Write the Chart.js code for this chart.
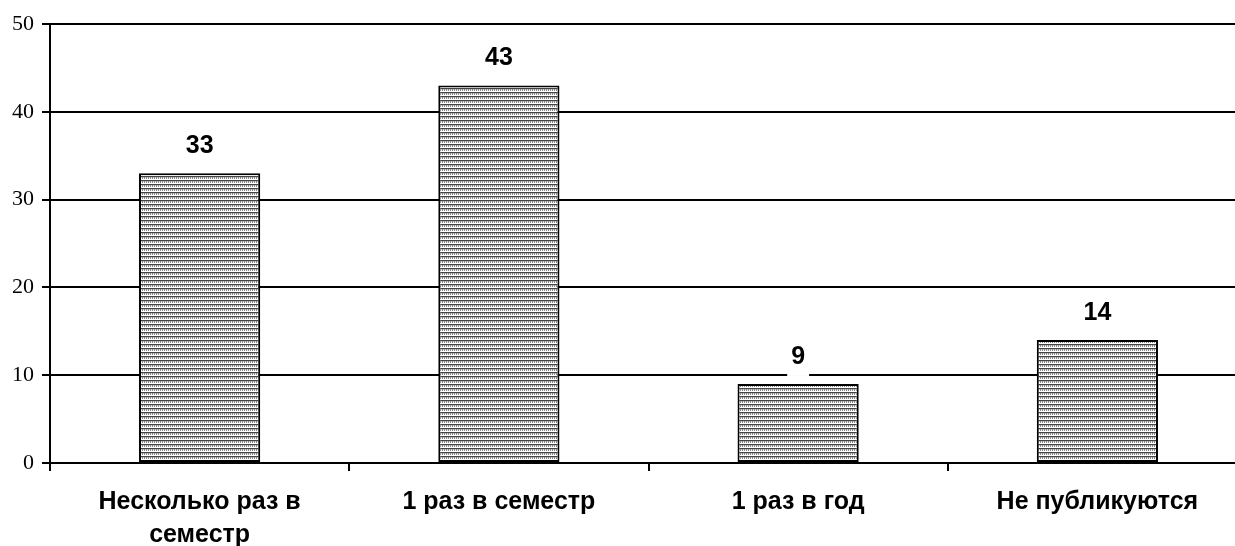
<!DOCTYPE html>
<html lang="ru">
<head>
  <meta charset="UTF-8">
  <title>Частота публикаций</title>
  <script src="https://cdn.jsdelivr.net/npm/chart.js"></script>
  <style>
    html, body { margin: 0; padding: 0; background: #fff; overflow: hidden; }
    .wrap { width: 1247px; height: 546px; position: relative; }
  </style>
</head>
<body>
  <div class="wrap"><canvas id="chart"></canvas></div>
  <script>
    // данные
    const categories = [['Несколько раз в', 'семестр'], '1 раз в семестр', '1 раз в год', 'Не публикуются'];
    const values = [33, 43, 9, 14];
    const yTicks = [0, 10, 20, 30, 40, 50];

    // штриховка столбцов (мелкий "кирпич")
    function makePattern() {
      const c = document.createElement('canvas');
      c.width = 4; c.height = 4;
      const g = c.getContext('2d');
      g.fillStyle = '#ffffff'; g.fillRect(0, 0, 4, 4);
      g.fillStyle = '#444444'; g.fillRect(0, 0, 4, 1);
      g.fillStyle = '#888888'; g.fillRect(0, 1, 1, 2); g.fillRect(2, 1, 1, 2);
      g.fillStyle = '#cccccc'; g.fillRect(1, 1, 1, 1); g.fillRect(3, 1, 1, 1);
      return g.createPattern(c, 'repeat');
    }

    // подписи значений с белой подложкой
    const valueLabels = {
      id: 'valueLabels',
      afterDatasetsDraw(chart) {
        const ctx = chart.ctx;
        const meta = chart.getDatasetMeta(0);
        ctx.save();
        ctx.font = 'bold 25px "Liberation Sans", Arial, sans-serif';
        ctx.textAlign = 'center';
        ctx.textBaseline = 'middle';
        meta.data.forEach((bar, i) => {
          const txt = String(values[i]);
          const y = bar.y - 27;
          const w = ctx.measureText(txt).width + 8;
          ctx.fillStyle = '#fff';
          ctx.fillRect(bar.x - w / 2, y - 15, w, 34);
          ctx.fillStyle = '#000';
          ctx.fillText(txt, bar.x, y);
        });
        ctx.restore();
      }
    };

    new Chart(document.getElementById('chart'), {
      type: 'bar',
      data: {
        labels: categories,
        datasets: [{
          data: values,
          backgroundColor: makePattern(),
          borderColor: '#000',
          borderWidth: 2,
          borderSkipped: false,
          barPercentage: 0.81,
          categoryPercentage: 0.5
        }]
      },
      options: {
        responsive: true,
        maintainAspectRatio: false,
        animation: false,
        layout: { padding: { top: 24, right: 0, left: 0, bottom: 0 } },
        plugins: { legend: { display: false }, tooltip: { enabled: false } },
        scales: {
          x: {
            offset: true,
            afterFit(axis) { axis.height = 83; },
            grid: { display: true, drawOnChartArea: false, offset: true, color: '#000', lineWidth: 2, tickLength: 8 },
            border: { display: true, color: '#000', width: 2 },
            ticks: {
              color: '#000',
              maxRotation: 0,
              autoSkip: false,
              padding: 15,
              font: { family: '"Liberation Sans", Arial, sans-serif', size: 25, weight: 'bold', lineHeight: 1.32 }
            }
          },
          y: {
            min: 0,
            max: 50,
            afterBuildTicks(axis) { axis.ticks = yTicks.map(v => ({ value: v })); },
            afterFit(axis) { axis.width = 50; },
            grid: { color: '#000', lineWidth: 2, tickLength: 8 },
            border: { display: true, color: '#000', width: 2 },
            ticks: {
              color: '#000',
              padding: 8,
              font: { family: '"Liberation Serif", "Times New Roman", serif', size: 22 }
            }
          }
        }
      },
      plugins: [valueLabels]
    });
  </script>
</body>
</html>
